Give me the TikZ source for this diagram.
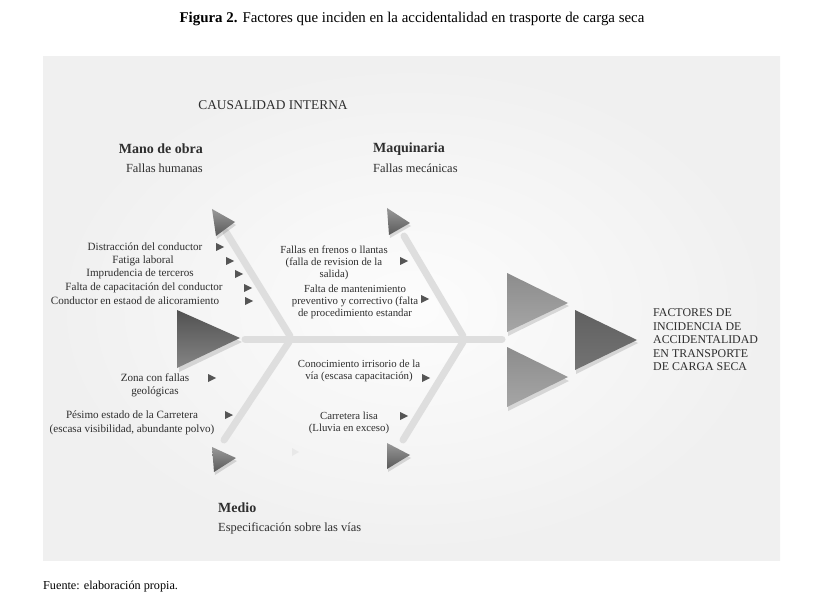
\documentclass[tikz,border=0pt]{standalone}
\usepackage{fontspec}
\setmainfont{Liberation Serif}
\definecolor{txt}{HTML}{2E2E2E}
\definecolor{bone}{HTML}{DEDEDE}
\definecolor{tip}{HTML}{555555}
\tikzset{
  lbl/.style={inner sep=0pt, text=txt, font=\fontsize{11.1}{13.4}\selectfont, align=center},
  lblm/.style={inner sep=0pt, text=txt, font=\fontsize{10.8}{11.8}\selectfont, align=center},
  head/.style={inner sep=0pt, text=txt, font=\bfseries\fontsize{14}{16}\selectfont},
  sub/.style={inner sep=0pt, text=txt, font=\fontsize{12.4}{14}\selectfont},
  bonestyle/.style={draw=bone, line width=7pt, line cap=round},
  shadowtri/.style={fill=black, opacity=0.13},
}
\newcommand{\arrowhd}[3]{% name, x, y  : small right-pointing arrowhead
  \coordinate (#1) at (#2,#3);
  \fill[tip] ($(#1)+(-4,-4)$) -- ($(#1)+(4,0)$) -- ($(#1)+(-4,4)$) -- cycle;}
\usetikzlibrary{calc}
\begin{document}
\begin{tikzpicture}[x=1pt,y=-1pt]
\useasboundingbox (0,0) rectangle (824,612);
\fill[white] (0,0) rectangle (824,612);
% panel
\shade[inner color=black!1, outer color=black!6] (43,57) rectangle (780,560);

% title and source
\node[inner sep=0pt, font=\fontsize{14.9}{17}\selectfont] (title) at (412,19)
  {\textbf{Figura 2.} Factores que inciden en la accidentalidad en trasporte de carga seca};
\node[inner sep=0pt, anchor=west, font=\fontsize{12.2}{14}\selectfont] (fuente) at (43,587)
  {Fuente: elaboración propia.};

% bone coordinates
\coordinate (spL) at (245,339);
\coordinate (spR) at (502,339);
\coordinate (ulA) at (290,336);
\coordinate (ulB) at (226,232);
\coordinate (urA) at (463,336);
\coordinate (urB) at (404,236);
\coordinate (llA) at (289,342);
\coordinate (llB) at (224,440);
\coordinate (lrA) at (463,342);
\coordinate (lrB) at (403,440);
\draw[bonestyle] (spL) -- (spR);
\draw[bonestyle] (ulA) -- (ulB);
\draw[bonestyle] (urA) -- (urB);
\draw[bonestyle] (llA) -- (llB);
\draw[bonestyle] (lrA) -- (lrB);

% triangles: shadows
\fill[shadowtri] (179,314) -- (179,372) -- (242,342) -- cycle;
\fill[shadowtri] (213,212) -- (217,239) -- (236,225) -- cycle;
\fill[shadowtri] (388,211) -- (390,238) -- (411,226) -- cycle;
\fill[shadowtri] (213,450) -- (215,475) -- (237,461) -- cycle;
\fill[shadowtri] (388,446) -- (388,472) -- (411,458) -- cycle;
\fill[shadowtri] (508,277) -- (508,336) -- (569,306) -- cycle;
\fill[shadowtri] (508,351) -- (508,411) -- (569,381) -- cycle;
\fill[shadowtri] (576,314) -- (576,374) -- (638,343) -- cycle;

% triangles
\shade[top color=black!68, bottom color=black!48] (177,310) -- (177,368) -- (240,338) -- cycle;
\shade[top color=black!40, bottom color=black!65] (212,209) -- (216,236) -- (235,222) -- cycle;
\shade[top color=black!40, bottom color=black!65] (387,208) -- (389,235) -- (410,223) -- cycle;
\shade[top color=black!40, bottom color=black!65] (212,447) -- (214,472) -- (236,458) -- cycle;
\shade[top color=black!40, bottom color=black!65] (387,443) -- (387,469) -- (410,455) -- cycle;
\fill[black!9] (292,448) -- (292,456) -- (299,452) -- cycle;
\shade[top color=black!45, bottom color=black!35] (507,273) -- (507,332) -- (568,303) -- cycle;
\shade[top color=black!45, bottom color=black!35] (507,347) -- (507,407) -- (568,377) -- cycle;
\shade[top color=black!62, bottom color=black!55] (575,310) -- (575,370) -- (637,340) -- cycle;

% headers
\node[inner sep=0pt, text=txt, font=\fontsize{13.4}{15}\selectfont] (causal) at (273,105) {CAUSALIDAD INTERNA};
\node[head, anchor=east] (mano) at (203,149) {Mano de obra};
\node[sub, anchor=east] (manos) at (203,168) {Fallas humanas};
\node[head, anchor=west] (maq) at (373,149) {Maquinaria};
\node[sub, anchor=west] (maqs) at (373,168) {Fallas mecánicas};
\node[head, anchor=west] (medio) at (218,508) {Medio};
\node[sub, anchor=west] (medios) at (218,528) {Especificación sobre las vías};

% result text
\node[inner sep=0pt, text=txt, font=\fontsize{11.9}{13.5}\selectfont, align=left, anchor=west] (efecto) at (653,340)
  {FACTORES DE\\INCIDENCIA DE\\ACCIDENTALIDAD\\EN TRANSPORTE\\DE CARGA SECA};

% left causes
\node[lbl] (l1) at (145,247) {Distracción del conductor};
\node[lbl] (l2) at (143,261) {Fatiga laboral};
\node[lbl] (l3) at (140,274) {Imprudencia de terceros};
\node[lbl] (l4) at (144,288) {Falta de capacitación del conductor};
\node[lbl] (l5) at (135,301) {Conductor en estaod de alicoramiento};
\arrowhd{a1}{220}{247}
\arrowhd{a2}{230}{261}
\arrowhd{a3}{239}{274}
\arrowhd{a4}{248}{288}
\arrowhd{a5}{249}{301}

% machinery causes
\node[lblm] (m1) at (334,263) {Fallas en frenos o llantas\\(falla de revision de la\\salida)};
\node[lblm] (m2) at (355,302) {Falta de mantenimiento\\preventivo y correctivo (falta\\de procedimiento estandar};
\arrowhd{a6}{404}{261}
\arrowhd{a7}{425}{299}

% environment causes
\node[lbl] (z1) at (155,385) {Zona con fallas\\geológicas};
\node[lbl] (z2) at (132,423) {Pésimo estado de la Carretera\\(escasa visibilidad, abundante polvo)};
\arrowhd{a8}{212}{378}
\arrowhd{a9}{229}{415}
\node[lblm] (r1) at (359,371) {Conocimiento irrisorio de la\\vía (escasa capacitación)};
\node[lblm] (r2) at (349,423) {Carretera lisa\\(Lluvia en exceso)};
\arrowhd{a10}{426}{378}
\arrowhd{a11}{404}{416}
\end{tikzpicture}
\end{document}
